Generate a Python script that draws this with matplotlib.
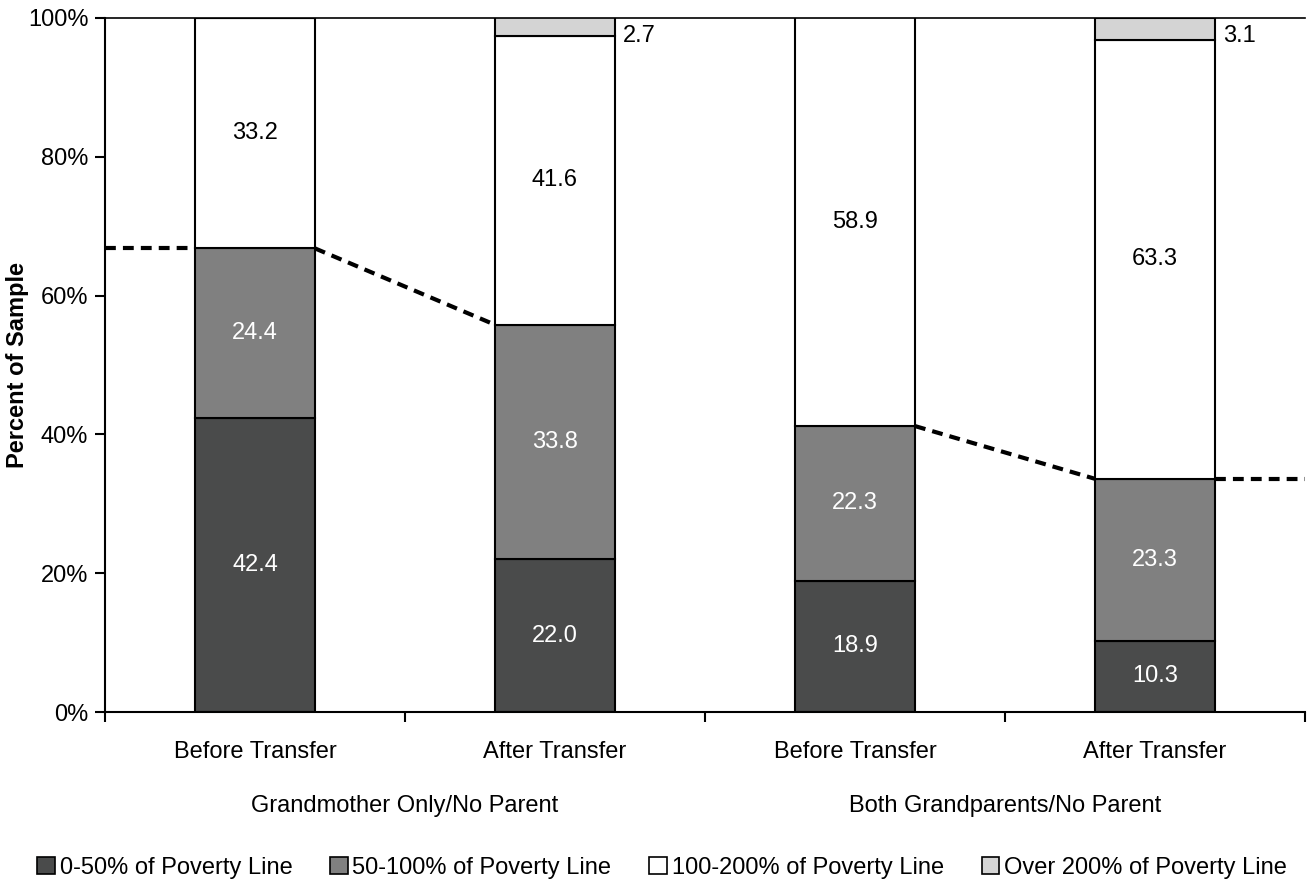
import numpy as np
import matplotlib.pyplot as plt
from matplotlib.patches import Patch

plt.rcParams['font.family'] = ['Liberation Sans', 'DejaVu Sans']

categories = ['Before Transfer', 'After Transfer', 'Before Transfer', 'After Transfer']
groups = ['Grandmother Only/No Parent', 'Both Grandparents/No Parent']
series_names = ['0-50% of Poverty Line', '50-100% of Poverty Line',
                '100-200% of Poverty Line', 'Over 200% of Poverty Line']
below_50 = [42.4, 22.0, 18.9, 10.3]
from_50_100 = [24.4, 33.8, 22.3, 23.3]
from_100_200 = [33.2, 41.6, 58.9, 63.3]
over_200 = [0.0, 2.7, 0.0, 3.1]

colors = ['#4a4b4b', '#808080', '#ffffff', '#d4d4d4']
text_colors = ['white', 'white', 'black', 'black']
fs = 17

fig = plt.figure(figsize=(13.07, 8.8), dpi=100)
ax = fig.add_axes([105 / 1307, 1 - 712 / 880, 1200 / 1307, 694 / 880])

x = np.arange(len(categories))
width = 0.4
data = [below_50, from_50_100, from_100_200, over_200]
bottom = np.zeros(len(categories))
for vals, col, tc in zip(data, colors, text_colors):
    vals = np.array(vals)
    ax.bar(x, vals, width, bottom=bottom, color=col, edgecolor='black', linewidth=1.5, zorder=2)
    for i, v in enumerate(vals):
        if v <= 0:
            continue
        if v < 5:
            # small top segments: label to the right of the bar
            ax.annotate(f'{v:.1f}', (x[i] + width / 2, min(bottom[i] + v, 100)), xytext=(6, -5),
                        textcoords='offset points', ha='left', va='top', fontsize=fs,
                        color='black', annotation_clip=False)
        else:
            ax.text(x[i], bottom[i] + v / 2, f'{v:.1f}', ha='center', va='center', fontsize=fs, color=tc)
    bottom = bottom + vals

# dashed series lines at top of the below-100% part
tops = np.array(below_50) + np.array(from_50_100)
dash = dict(color='black', linestyle=(0, (2.6, 1.7)), linewidth=3, zorder=3)
ax.plot([-0.5, x[0] - width / 2], [tops[0], tops[0]], **dash)
ax.plot([x[0] + width / 2, x[1] - width / 2], [tops[0], tops[1]], **dash)
ax.plot([x[2] + width / 2, x[3] - width / 2], [tops[2], tops[3]], **dash)
ax.plot([x[3] + width / 2, 3.5], [tops[3], tops[3]], **dash)

ax.set_xlim(-0.5, 3.5)
ax.set_ylim(0, 100)
ax.set_yticks(np.arange(0, 101, 20))
ax.set_yticklabels([f'{t}%' for t in range(0, 101, 20)], fontsize=fs)
ax.set_xticks(np.arange(-0.5, 3.6, 1.0))
ax.set_xticklabels([])
ax.tick_params(axis='both', length=7, width=1.5, color='black')
ax.tick_params(axis='y', pad=5)
for i, c in enumerate(categories):
    ax.text(x[i], -5.7, c, ha='center', va='center', fontsize=fs)
for g, gx in zip(groups, [0.5, 2.5]):
    ax.text(gx, -13.6, g, ha='center', va='center', fontsize=fs)

ax.spines['right'].set_visible(False)
for s in ['left', 'bottom']:
    ax.spines[s].set_linewidth(1.5)
ax.spines['top'].set_linewidth(1.2)

fig.text(18 / 1307, 1 - 365 / 880, 'Percent of Sample', rotation=90, ha='center', va='center',
         fontsize=fs, fontweight='bold')

handles = [Patch(facecolor=c, edgecolor='black', linewidth=1.2) for c in colors]
fig.legend(handles, series_names, loc='center', bbox_to_anchor=(662 / 1307, 1 - 868 / 880), ncol=4,
           frameon=False, fontsize=fs, handlelength=0.75, handleheight=0.75, handletextpad=0.2,
           columnspacing=1.6)

fig.savefig('out.png', dpi=100)
